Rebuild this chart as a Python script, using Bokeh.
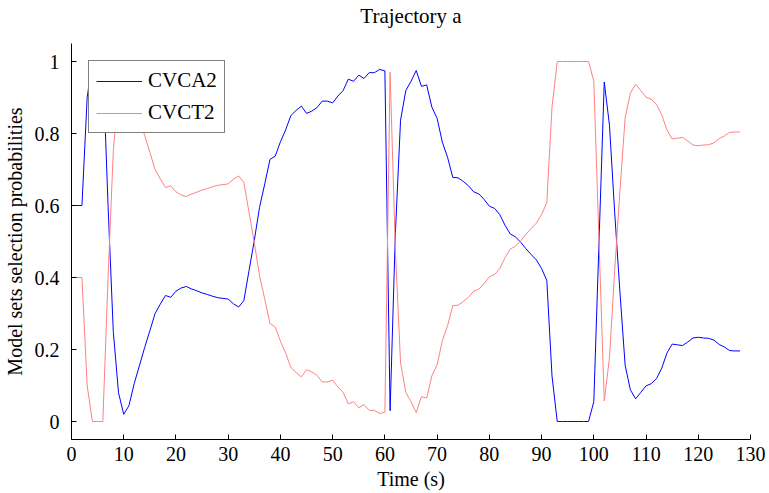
from bokeh.plotting import figure
from bokeh.models import Range1d, FixedTicker, LinearAxis
from bokeh.embed import file_html
from bokeh.resources import INLINE

# ---- data ----
time_s = list(range(0, 129))

cvca2 = [0.60, 0.60, 0.60, 0.90, 1.00, 1.00, 1.00, 0.60, 0.25, 0.08,
         0.02, 0.044, 0.105, 0.155, 0.205, 0.252, 0.30, 0.326, 0.35, 0.345,
         0.362, 0.371, 0.375, 0.368, 0.363, 0.357, 0.353, 0.348, 0.344, 0.342,
         0.34, 0.327, 0.318, 0.336, 0.42, 0.503, 0.595, 0.66, 0.728, 0.737,
         0.777, 0.81, 0.85, 0.864, 0.876, 0.856, 0.862, 0.872, 0.89, 0.89,
         0.885, 0.904, 0.919, 0.951, 0.945, 0.962, 0.953, 0.969, 0.969, 0.978,
         0.974, 0.03, 0.52, 0.837, 0.919, 0.945, 0.975, 0.931, 0.935, 0.873,
         0.842, 0.776, 0.734, 0.678, 0.677, 0.667, 0.655, 0.638, 0.632, 0.617,
         0.598, 0.592, 0.575, 0.545, 0.521, 0.513, 0.498, 0.48, 0.464, 0.449,
         0.425, 0.392, 0.126, 0.0, 0.0, 0.0, 0.0, 0.0, 0.0, 0.0,
         0.055, 0.5, 0.943, 0.823, 0.58, 0.36, 0.156, 0.088, 0.063, 0.081,
         0.099, 0.105, 0.119, 0.148, 0.19, 0.215, 0.213, 0.211, 0.221, 0.232,
         0.234, 0.232, 0.231, 0.226, 0.214, 0.207, 0.197, 0.196, 0.196]

cvct2 = [0.40, 0.40, 0.40, 0.10, 0.00, 0.00, 0.00, 0.40, 0.75, 0.92,
         0.98, 0.956, 0.895, 0.845, 0.795, 0.748, 0.70, 0.674, 0.65, 0.655,
         0.638, 0.629, 0.625, 0.632, 0.637, 0.643, 0.647, 0.652, 0.656, 0.658,
         0.66, 0.673, 0.682, 0.664, 0.58, 0.497, 0.405, 0.34, 0.272, 0.263,
         0.223, 0.19, 0.15, 0.136, 0.124, 0.144, 0.138, 0.128, 0.11, 0.11,
         0.115, 0.096, 0.081, 0.049, 0.055, 0.038, 0.047, 0.031, 0.031, 0.022,
         0.026, 0.97, 0.48, 0.163, 0.081, 0.055, 0.025, 0.069, 0.065, 0.127,
         0.158, 0.224, 0.266, 0.322, 0.323, 0.333, 0.345, 0.362, 0.368, 0.383,
         0.402, 0.408, 0.425, 0.455, 0.479, 0.487, 0.502, 0.52, 0.536, 0.551,
         0.575, 0.608, 0.874, 1.0, 1.0, 1.0, 1.0, 1.0, 1.0, 1.0,
         0.945, 0.5, 0.057, 0.177, 0.42, 0.64, 0.844, 0.912, 0.937, 0.919,
         0.901, 0.895, 0.881, 0.852, 0.81, 0.785, 0.787, 0.789, 0.779, 0.768,
         0.766, 0.768, 0.769, 0.774, 0.786, 0.793, 0.803, 0.804, 0.804]

x_ticks = [0, 10, 20, 30, 40, 50, 60, 70, 80, 90, 100, 110, 120, 130]
y_ticks = [0, 0.2, 0.4, 0.6, 0.8, 1]
y_tick_labels = ["0", "0.2", "0.4", "0.6", "0.8", "1"]
title_text = "Trajectory a"

FONT = "Liberation Serif"

p = figure(width=769, height=493, output_backend="svg", toolbar_location=None,
           x_range=Range1d(0, 130), y_range=Range1d(-0.05, 1.05),
           min_border_left=71, min_border_right=19,
           min_border_top=43, min_border_bottom=54)

p.line(time_s, cvca2, line_color="#0000FF", line_width=1, legend_label="CVCA2")
p.line(time_s, cvct2, line_color="#FF8080", line_width=1, legend_label="CVCT2")

p.outline_line_color = None
p.grid.visible = False
p.background_fill_color = "white"
p.border_fill_color = "white"

bottom_axis = p.below[0]
left_axis = p.left[0]

for ax in (bottom_axis, left_axis):
    ax.axis_line_color = "black"
    ax.axis_line_width = 1
    ax.major_tick_line_color = "black"
    ax.major_tick_in = 5
    ax.major_tick_out = 0
    ax.minor_tick_line_color = None
    ax.major_label_text_font = FONT
    ax.major_label_text_font_size = "20px"
    ax.major_label_text_color = "black"
    ax.axis_label_text_font = FONT
    ax.axis_label_text_font_size = "20px"
    ax.axis_label_text_font_style = "normal"
    ax.axis_label_text_color = "black"

bottom_axis.ticker = FixedTicker(ticks=x_ticks)
bottom_axis.axis_label = "Time (s)"
bottom_axis.major_label_standoff = 7
bottom_axis.axis_label_standoff = 4

left_axis.ticker = FixedTicker(ticks=y_ticks)
left_axis.major_label_overrides = dict(zip(y_ticks, y_tick_labels))
left_axis.axis_label = "Model sets selection probabilities"
left_axis.major_label_standoff = 12
left_axis.axis_label_standoff = 6

# title drawn as the label of a bare axis above the frame (lets it sit higher)
title_axis = LinearAxis(ticker=FixedTicker(ticks=[]), axis_label=title_text,
                        axis_line_color=None, major_tick_line_color=None,
                        minor_tick_line_color=None, major_label_standoff=0,
                        major_tick_in=0, major_tick_out=0,
                        axis_label_standoff=16,
                        axis_label_text_font=FONT,
                        axis_label_text_font_size="21px",
                        axis_label_text_font_style="normal",
                        axis_label_text_color="black")
p.add_layout(title_axis, "above")

lg = p.legend[0]
lg.location = "top_left"
lg.margin = 17
lg.padding = 7
lg.spacing = 7
lg.label_height = 20
lg.glyph_height = 20
lg.glyph_width = 46
lg.label_standoff = 6
lg.label_text_font = FONT
lg.label_text_font_size = "21px"
lg.label_text_color = "black"
lg.border_line_color = "black"
lg.border_line_width = 1.5
lg.background_fill_color = "white"
lg.background_fill_alpha = 1.0

open("out.html", "w").write(file_html(p, INLINE))
